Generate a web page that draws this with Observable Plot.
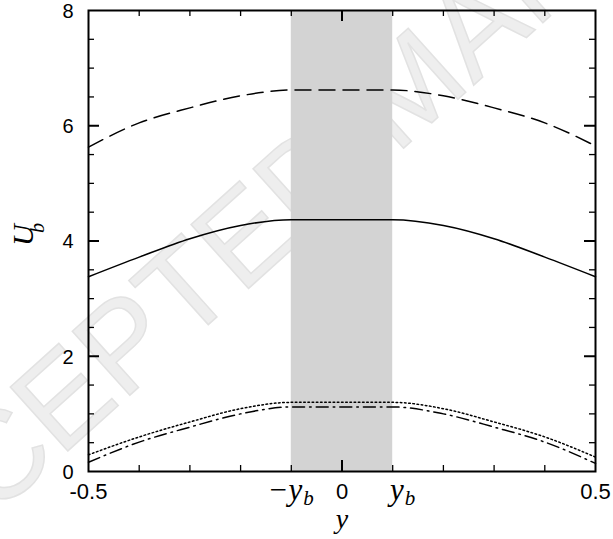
<!DOCTYPE html>
<html><head><meta charset="utf-8">
<script src="https://cdn.jsdelivr.net/npm/d3@7"></script>
<script src="https://cdn.jsdelivr.net/npm/@observablehq/plot@0.6"></script>
<style>body{margin:0;background:#fff} #chart svg{display:block}</style>
</head><body><div id="chart"></div>
<script>
// ---- data ----
const yPos     = [-0.5, -0.4, -0.3, -0.2, -0.1, 0, 0.1, 0.2, 0.3, 0.4, 0.5];
const uDashed  = [5.63, 6.05, 6.31, 6.52, 6.62, 6.62, 6.62, 6.52, 6.31, 6.05, 5.65];
const uSolid   = [3.38, 3.72, 4.04, 4.27, 4.37, 4.37, 4.37, 4.27, 4.04, 3.72, 3.38];
const uDotted  = [0.29, 0.60, 0.86, 1.09, 1.20, 1.20, 1.20, 1.09, 0.86, 0.60, 0.25];
const uDashDot = [0.16, 0.51, 0.77, 1.00, 1.12, 1.12, 1.12, 1.00, 0.77, 0.51, 0.14];
const bandEdges = [-0.1, 0.1];
const xTickLabels = [-0.5, 0, 0.5];
const xMinorTicks = [-0.4, -0.3, -0.2, -0.1, 0.1, 0.2, 0.3, 0.4];
const xMajorTicks = [0];
const yTickLabels = [0, 2, 4, 6, 8];
const yMinorTicks = [0.5, 1, 1.5, 2.5, 3, 3.5, 4.5, 5, 5.5, 6.5, 7, 7.5];
const yMajorTicks = [2, 4, 6];
const bandLabels = ["−y", "y"];

// ---- layout ----
const W = 613, H = 539, mL = 88, mR = 18, mT = 10, mB = 68;
const xDom = [-0.5, 0.5], yDom = [0, 8];
const pxX = (xDom[1] - xDom[0]) / (W - mL - mR);
const pxY = (yDom[1] - yDom[0]) / (H - mT - mB);
const minorLen = 6, majorLen = 11;
const sans = "Liberation Sans, Arial, Helvetica, sans-serif";
const serif = "Liberation Serif, Times New Roman, serif";

const series = [
  {u: uDashed,  dash: "16,8"},
  {u: uSolid,   dash: null},
  {u: uDotted,  dash: "1.6,2.6"},
  {u: uDashDot, dash: "12,5,1.6,5"}
];

const tickStyle = {stroke: "black", strokeWidth: 1.3};
const italic = {fontFamily: serif, fontStyle: "italic", fill: "black", lineAnchor: "middle"};

const marks = [
  Plot.rect([bandEdges], {x1: d => d[0], x2: d => d[1], y1: yDom[0], y2: yDom[1], fill: "#d3d3d3"}),
  ...series.map(s => Plot.line(yPos, {
    x: d => d, y: (d, i) => s.u[i], curve: "monotone-x",
    stroke: "black", strokeWidth: 1.5, strokeDasharray: s.dash
  })),
  // inward ticks, all four sides
  Plot.ruleX(xMinorTicks, {x: d => d, y1: yDom[0], y2: yDom[0] + minorLen * pxY, ...tickStyle}),
  Plot.ruleX(xMinorTicks, {x: d => d, y1: yDom[1], y2: yDom[1] - minorLen * pxY, ...tickStyle}),
  Plot.ruleX(xMajorTicks, {x: d => d, y1: yDom[0], y2: yDom[0] + majorLen * pxY, ...tickStyle, strokeWidth: 2}),
  Plot.ruleX(xMajorTicks, {x: d => d, y1: yDom[1], y2: yDom[1] - majorLen * pxY, ...tickStyle, strokeWidth: 2}),
  Plot.ruleY(yMinorTicks, {y: d => d, x1: xDom[0], x2: xDom[0] + minorLen * pxX, ...tickStyle}),
  Plot.ruleY(yMinorTicks, {y: d => d, x1: xDom[1], x2: xDom[1] - minorLen * pxX, ...tickStyle}),
  Plot.ruleY(yMajorTicks, {y: d => d, x1: xDom[0], x2: xDom[0] + majorLen * pxX, ...tickStyle, strokeWidth: 2}),
  Plot.ruleY(yMajorTicks, {y: d => d, x1: xDom[1], x2: xDom[1] - majorLen * pxX, ...tickStyle, strokeWidth: 2}),
  Plot.frame({stroke: "black", strokeWidth: 2}),
  // tick labels
  Plot.text(xTickLabels, {x: d => d, y: yDom[0], text: d => String(d), dy: 20, fontSize: 22, fontFamily: sans, fill: "black"}),
  Plot.text(yTickLabels, {frameAnchor: "left", y: d => d, text: d => String(d), textAnchor: "end", dx: -15, dy: 1, fontSize: 20, fontFamily: sans, fill: "black"}),
  // band-edge labels  -y_b , y_b
  Plot.text(bandEdges, {x: d => d, y: yDom[0], text: (d, i) => bandLabels[i], textAnchor: "end", dx: 11, dy: 19, fontSize: 31, ...italic}),
  Plot.text(bandEdges, {x: d => d, y: yDom[0], text: () => "b", textAnchor: "start", dx: 12, dy: 27, fontSize: 21, ...italic}),
  // axis titles
  Plot.text(["y"], {frameAnchor: "bottom", text: d => d, dy: 48, fontSize: 28, ...italic}),
  Plot.text(["U"], {frameAnchor: "left", text: d => d, rotate: -90, dx: -65, dy: 5, fontSize: 30, ...italic}),
  Plot.text(["b"], {frameAnchor: "left", text: d => d, rotate: -90, dx: -51, dy: -8, fontSize: 20, ...italic})
];

const chart = Plot.plot({
  width: W, height: H,
  marginLeft: mL, marginRight: mR, marginTop: mT, marginBottom: mB,
  x: {domain: xDom, axis: null},
  y: {domain: yDom, axis: null},
  style: {background: "white"},
  marks
});

// faint "ACCEPTED MANUSCRIPT" watermark behind the marks
const wm = d3.select(chart).insert("g", ":first-child").attr("fill", "#eeeeee")
  .attr("stroke", "#e2e2e2").attr("stroke-width", 1.5)
  .attr("font-family", sans).attr("font-size", 125);
wm.append("text").attr("transform", "translate(370,179) rotate(-42)").attr("text-anchor", "end").text("ACCEPTED");
wm.append("text").attr("transform", "translate(396,155) rotate(-42)").attr("text-anchor", "start").text("MANUSCRIPT");

document.getElementById("chart").appendChild(chart);
</script>
</body></html>
